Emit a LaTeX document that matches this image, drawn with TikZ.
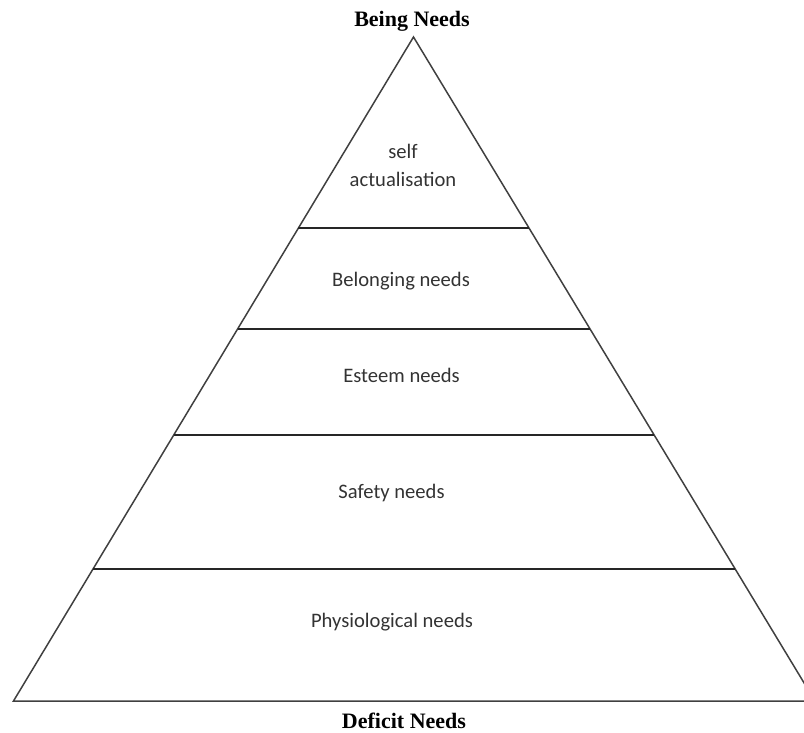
\documentclass[tikz,border=0pt]{standalone}
\usepackage{fontspec}
\setmainfont{Liberation Serif}
\newfontfamily\levelfont{Carlito}
\usetikzlibrary{calc}

\tikzset{
    side/.style={line width=0.75pt, black!75},
    level/.style={font=\levelfont\fontsize{10.3}{14}\selectfont, text=black!80, align=center},
    heading/.style={font=\bfseries\fontsize{11}{13}\selectfont}
}

\begin{document}
\begin{tikzpicture}[x=0.5pt, y=-0.5pt]
    \useasboundingbox (0,0) rectangle (804,733);

    % Corners of the pyramid
    \coordinate (apex) at (413.5,37);
    \coordinate (bl) at (13.5,701);
    \coordinate (br) at (815,701);

    % Outline
    \begin{scope}
        \clip (0,0) rectangle (804,733);
        \draw[side] (bl) -- (apex) -- (br) -- cycle;
    \end{scope}

    % Dividing lines
    \foreach \t/\name in {0.2877/a, 0.4398/b, 0.5994/c, 0.8012/d}{
        \coordinate (l\name) at ($(apex)!\t!(bl)$);
        \coordinate (r\name) at ($(apex)!\t!(br)$);
        \draw[side, black!85] (l\name) -- (r\name);
    }

    % Levels
    \node[level] (self) at (403,165) {self\\actualisation};
    \node[level] (belong) at (401,281) {Belonging needs};
    \node[level] (esteem) at (401.5,375) {Esteem needs};
    \node[level] (safety) at (391.5,493) {Safety needs};
    \node[level] (physio) at (392,622) {Physiological needs};

    % Headings
    \node[heading] (being) at (412,21) {Being Needs};
    \node[heading] (deficit) at (404,721) {Deficit Needs};
\end{tikzpicture}
\end{document}
